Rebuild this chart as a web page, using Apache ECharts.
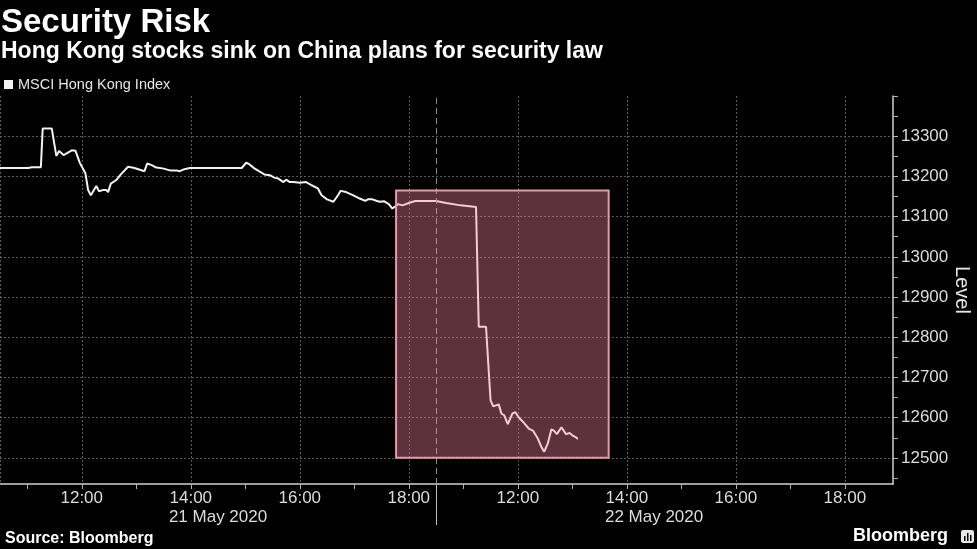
<!DOCTYPE html>
<html><head><meta charset="utf-8">
<script src="https://cdn.jsdelivr.net/npm/echarts@6/dist/echarts.min.js"></script>
<style>html,body{margin:0;padding:0;background:#000;}#c{width:977px;height:549px;}</style>
</head><body><div id="c"></div>
<script>
const titleText = 'Security Risk';
const subtitleText = 'Hong Kong stocks sink on China plans for security law';
const seriesName = 'MSCI Hong Kong Index';
const sourceText = 'Source: Bloomberg';
const brandText = 'Bloomberg';
const yAxisName = 'Level';

const dayKeys = ['05-21', '05-22'];
const dayLabels = ['21 May 2020', '22 May 2020'];
const sessionOpen = '10:30';
const sessionClose = '18:30';
const axisEndTime = '05-22 18:53';
const tickHours = ['11:00','12:00','13:00','14:00','15:00','16:00','17:00','18:00'];
const labelHours = ['12:00','14:00','16:00','18:00'];
const dayLabelTime = '14:30';

const yLabelValues = [12500,12600,12700,12800,12900,13000,13100,13200,13300];
const yTickValues = [12450,12500,12550,12600,12650,12700,12750,12800,12850,12900,12950,13000,13050,13100,13150,13200,13250,13300,13350,13400];
const yMin = 12435, yMax = 13400;

const day1Times = ['10:30','11:01','11:03','11:05','11:15','11:17','11:27','11:32','11:35','11:40','11:49','11:53','11:58','12:04','12:07','12:10','12:16','12:19','12:23','12:27','12:29','12:32','12:38','12:43','12:51','12:54','12:58','13:00','13:09','13:12','13:17','13:22','13:29','13:37','13:44','13:48','13:53','13:59','14:56','15:01','15:04','15:10','15:15','15:21','15:27','15:32','15:36','15:42','15:45','15:49','15:53','16:00','16:07','16:13','16:20','16:24','16:30','16:37','16:42','16:45','16:51','16:59','17:06','17:12','17:15','17:20','17:25','17:28','17:33','17:38','17:42','17:44','17:48','17:53','18:00','18:07','18:30'];
const day1Levels = [13221,13221,13219,13223,13223,13319,13319,13251,13263,13253,13265,13264,13233,13208,13166,13153,13176,13163,13166,13166,13161,13182,13191,13205,13224,13223,13221,13218,13213,13232,13228,13222,13220,13215,13215,13213,13218,13221,13221,13234,13231,13220,13213,13205,13203,13197,13195,13186,13192,13186,13186,13184,13186,13178,13170,13153,13143,13137,13153,13164,13161,13153,13145,13139,13143,13143,13139,13137,13138,13131,13120,13124,13131,13128,13134,13139,13139];
const day2Times = ['10:41','10:57','10:59','11:14','11:17','11:25','11:30','11:33','11:39','11:42','11:45','11:49','11:54','11:57','12:02','12:06','12:12','12:17','12:22','12:26','12:29','12:33','12:37','12:40','12:43','12:48','12:53','12:57','13:00','13:04','13:06'];
const day2Levels = [13134,13128,13124,13124,12826,12826,12643,12628,12633,12610,12606,12584,12610,12614,12598,12589,12573,12567,12548,12527,12515,12536,12571,12567,12559,12576,12559,12562,12556,12551,12547];

const highlightStart = '05-21 17:46';
const highlightEnd = '05-22 13:40';
const highlightTop = 13165;
const highlightBottom = 12500;

function hrs(hm){ const p = hm.split(':'); return +p[0] + (+p[1])/60; }
const openH = hrs(sessionOpen), closeH = hrs(sessionClose), sessLen = closeH - openH;
// compressed trading-time axis: each day shown from open to close, days joined
function toAxis(dayKey, hm){ return hrs(hm) + dayKeys.indexOf(dayKey) * sessLen; }
function toAxisFull(s){ const p = s.split(' '); return toAxis(p[0], p[1]); }
function axisToClock(v){ let h = v; while (h > closeH + 1e-9) h -= sessLen; const hh = Math.floor(h + 1e-9); const mm = Math.round((h - hh) * 60); return hh + ':' + (mm < 10 ? '0' + mm : mm); }

const lineData = day1Times.map((t,i)=>[toAxis(dayKeys[0], t), day1Levels[i]])
  .concat(day2Times.map((t,i)=>[toAxis(dayKeys[1], t), day2Levels[i]]));

const xMin = toAxis(dayKeys[0], sessionOpen);
const xMax = toAxisFull(axisEndTime);
const dayBoundary = toAxis(dayKeys[0], sessionClose);
const xTickVals = [], xLabelVals = [], xGridVals = [xMin], dayCenters = [];
dayKeys.forEach(d => {
  tickHours.forEach(h => xTickVals.push(toAxis(d, h)));
  labelHours.forEach(h => { xLabelVals.push(toAxis(d, h)); xGridVals.push(toAxis(d, h)); });
  dayCenters.push(toAxis(d, dayLabelTime));
});

const FONT = 'Liberation Sans';
const chart = echarts.init(document.getElementById('c'), null, {renderer: 'canvas'});
chart.setOption({
  backgroundColor: '#000',
  animation: false,
  textStyle: {fontFamily: FONT},
  title: [
    {text: titleText, left: 1, top: 6, padding: 0, textStyle: {color: '#fff', fontSize: 33, fontWeight: 'bold', fontFamily: FONT}},
    {text: subtitleText, left: 1, top: 40, padding: 0, textStyle: {color: '#fff', fontSize: 23, fontWeight: 'bold', fontFamily: FONT}},
    {text: sourceText, left: 5, top: 531, padding: 0, textStyle: {color: '#fff', fontSize: 16, fontWeight: 'bold', fontFamily: FONT}},
    {text: brandText, right: 29, top: 527, padding: 0, textStyle: {color: '#fff', fontSize: 18, fontWeight: 'bold', fontFamily: FONT}}
  ],
  graphic: [
    {type: 'group', left: 961, top: 530, children: [
      {type: 'rect', shape: {x: 0, y: 0, width: 13, height: 13, r: 2}, style: {fill: '#e8e8e8'}},
      {type: 'rect', shape: {x: 3, y: 6, width: 1.5, height: 5}, style: {fill: '#000'}},
      {type: 'rect', shape: {x: 6, y: 3, width: 1.5, height: 8}, style: {fill: '#000'}},
      {type: 'rect', shape: {x: 9, y: 5, width: 1.5, height: 6}, style: {fill: '#000'}}
    ]}
  ],
  legend: {
    data: [seriesName], left: 4, top: 77, padding: 0, icon: 'rect', itemWidth: 9, itemHeight: 9,
    selectedMode: false, textStyle: {color: '#e6e6e6', fontSize: 14.5, fontFamily: FONT}
  },
  grid: {left: 0, top: 96, width: 893, height: 388, containLabel: false, outerBoundsMode: 'none'},
  xAxis: [
    {type: 'value', min: xMin, max: xMax, position: 'bottom',
     axisLine: {show: true, lineStyle: {color: '#d0d0d0', width: 1.5}},
     axisTick: {show: true, customValues: xTickVals, length: 5, lineStyle: {color: '#b0b0b0'}},
     axisLabel: {customValues: xLabelVals, formatter: v => axisToClock(v), color: '#dcdcdc', fontSize: 17, margin: 6, fontFamily: FONT},
     splitLine: {show: false}},
    {type: 'value', min: xMin, max: xMax, position: 'top',
     axisLine: {show: false}, axisTick: {show: false, customValues: xGridVals}, axisLabel: {show: false},
     splitLine: {show: true, lineStyle: {color: '#5a5a5a', type: [2, 2], width: 1}}},
    {type: 'value', min: xMin, max: xMax, position: 'bottom',
     axisLine: {show: false},
     axisTick: {show: true, customValues: [dayBoundary], length: 41, lineStyle: {color: '#bdbdbd', width: 1}},
     axisLabel: {customValues: dayCenters, formatter: v => dayLabels[dayCenters.indexOf(v)] || '', color: '#dcdcdc', fontSize: 17, margin: 25, fontFamily: FONT},
     splitLine: {show: false}}
  ],
  yAxis: [
    {type: 'value', min: yMin, max: yMax, position: 'right',
     name: yAxisName, nameLocation: 'middle', nameRotate: -90, nameGap: 59, nameMoveOverlap: false,
     nameTextStyle: {color: '#e6e6e6', fontSize: 20, fontFamily: FONT},
     axisLine: {show: true, lineStyle: {color: '#d0d0d0', width: 1.5}},
     axisTick: {show: true, customValues: yTickValues, length: 5, lineStyle: {color: '#b0b0b0'}},
     axisLabel: {customValues: yLabelValues, formatter: v => String(v), color: '#dcdcdc', fontSize: 17, margin: 8, fontFamily: FONT},
     splitLine: {show: false}},
    {type: 'value', min: yMin, max: yMax, position: 'left',
     axisLine: {show: false}, axisTick: {show: false, customValues: yLabelValues}, axisLabel: {show: false},
     splitLine: {show: true, lineStyle: {color: '#5a5a5a', type: [2, 2], width: 1}}}
  ],
  series: [{
    name: seriesName, type: 'line', xAxisIndex: 0, yAxisIndex: 0,
    data: lineData, showSymbol: false, symbol: 'none',
    itemStyle: {color: '#f2f2f2'},
    lineStyle: {color: '#f2f2f2', width: 2},
    markLine: {silent: true, symbol: ['none', 'none'], label: {show: false},
      lineStyle: {color: '#8c8c8c', type: [6, 4], width: 1},
      data: [{xAxis: dayBoundary}]},
    markArea: {silent: true, z: 10,
      itemStyle: {color: 'rgba(255,135,160,0.37)', borderColor: '#e79aa5', borderWidth: 2},
      data: [[{coord: [toAxisFull(highlightStart), highlightTop]}, {coord: [toAxisFull(highlightEnd), highlightBottom]}]]}
  }]
});
</script>
</body></html>
